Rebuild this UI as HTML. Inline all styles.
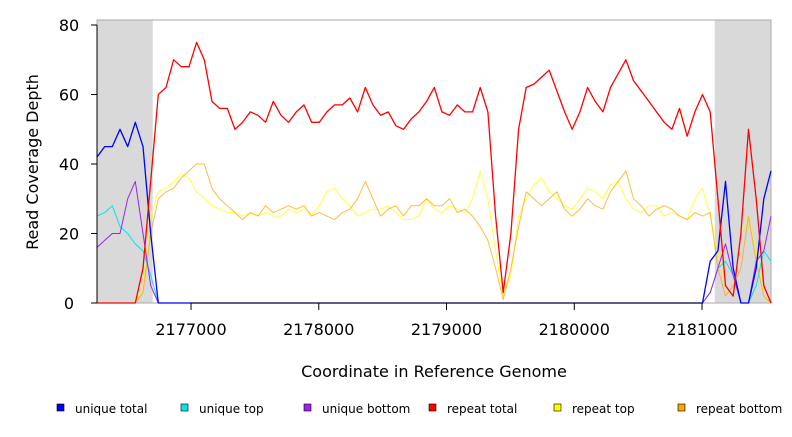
<!DOCTYPE html>
<html><head><meta charset="utf-8"><style>
body{margin:0;background:#fff;}
svg text{font-family:"DejaVu Sans","Liberation Sans",sans-serif;}
</style></head><body>
<svg id="chart" width="792" height="432" xmlns="http://www.w3.org/2000/svg">
<g id="bg"></g><g id="marks"></g><g id="axes"></g>
</svg>
<script>
const coordStart = 2176264;
const coordStep = 60;
const xTicks = [2177000, 2178000, 2179000, 2180000, 2181000];
const yTicks = [0, 20, 40, 60, 80];
const shadedRegions = [[2176264, 2176700], [2181100, 2181540]];
const repeatTotal = [0,0,0,0,0,0,10,35,60,62,70,68,68,75,70,58,56,56,50,52,55,54,52,58,54,52,55,57,52,52,55,57,57,59,55,62,57,54,55,51,50,53,55,58,62,55,54,57,55,55,62,55,25,3,20,50,62,63,65,67,61,55,50,55,62,58,55,62,66,70,64,61,58,55,52,50,56,48,55,60,55,30,5,2,20,50,30,5,0];
const repeatTop = [0,0,0,0,0,0,5,25,32,33,35,37,36,32,30,28,27,26,26,25,26,25,26,25,25,27,26,27,25,28,32,33,30,28,25,26,27,27,28,26,24,24,25,30,27,26,28,27,26,30,38,30,15,2,8,25,30,34,36,32,30,28,27,30,33,32,30,34,35,30,27,26,28,28,25,26,25,24,30,33,25,15,5,2,20,25,15,2,0];
const repeatBottom = [0,0,0,0,0,0,3,20,30,32,33,36,38,40,40,33,30,28,26,24,26,25,28,26,27,28,27,28,25,26,25,24,26,27,30,35,30,25,27,28,25,28,28,30,28,28,30,26,27,25,22,18,10,1,10,22,32,30,28,30,32,27,25,27,30,28,27,32,35,38,30,28,25,27,28,27,25,24,26,25,26,10,2,5,10,25,12,2,0];
const uniqueTotal = [42,45,45,50,45,52,45,20,0,0,0,0,0,0,0,0,0,0,0,0,0,0,0,0,0,0,0,0,0,0,0,0,0,0,0,0,0,0,0,0,0,0,0,0,0,0,0,0,0,0,0,0,0,0,0,0,0,0,0,0,0,0,0,0,0,0,0,0,0,0,0,0,0,0,0,0,0,0,0,0,12,15,35,10,0,0,10,30,38];
const uniqueTop = [25,26,28,22,20,17,15,8,0,0,0,0,0,0,0,0,0,0,0,0,0,0,0,0,0,0,0,0,0,0,0,0,0,0,0,0,0,0,0,0,0,0,0,0,0,0,0,0,0,0,0,0,0,0,0,0,0,0,0,0,0,0,0,0,0,0,0,0,0,0,0,0,0,0,0,0,0,0,0,0,3,10,12,8,0,0,5,15,12];
const uniqueBottom = [16,18,20,20,30,35,20,5,0,0,0,0,0,0,0,0,0,0,0,0,0,0,0,0,0,0,0,0,0,0,0,0,0,0,0,0,0,0,0,0,0,0,0,0,0,0,0,0,0,0,0,0,0,0,0,0,0,0,0,0,0,0,0,0,0,0,0,0,0,0,0,0,0,0,0,0,0,0,0,0,3,10,17,8,0,0,12,15,25];
const seriesNames = ["unique total","unique top","unique bottom","repeat total","repeat top","repeat bottom"];
const seriesColors = ["#0000ff","#00e5ee","#a020f0","#ff0000","#ffff00","#ffa500"];

const NS="http://www.w3.org/2000/svg";
const X0=97,X1=771,Y0=303,Y1=20;
const xMin=2176264,xMax=2181540;
function sx(c){return X0+(c-xMin)/(xMax-xMin)*(X1-X0);}
function sy(v){return Y0-v*3.475;}
function mk(tag,attrs,parent){const e=document.createElementNS(NS,tag);for(const k in attrs)e.setAttribute(k,attrs[k]);parent.appendChild(e);return e;}
const bg=document.getElementById('bg'),marks=document.getElementById('marks'),axes=document.getElementById('axes');

shadedRegions.forEach(r=>{
  const e=mk('rect',{x:sx(r[0]),y:Y1,width:sx(r[1])-sx(r[0]),height:Y0-Y1,fill:'#d9d9d9'},bg);
  
  
});
const border=mk('rect',{x:X0,y:Y1,width:X1-X0,height:Y0-Y1,fill:'none',stroke:'#aaa','stroke-width':1},bg);



const data=[uniqueTotal,uniqueTop,uniqueBottom,repeatTotal,repeatTop,repeatBottom];
const widths=[1.3,1,1,1.3,1,1];
const order=[4,5,1,2,0,3];
order.forEach(i=>{
  const arr=data[i];
  let d='';
  arr.forEach((v,j)=>{const c=Math.min(coordStart+j*coordStep,xMax);d+=(j?'L':'M')+sx(c).toFixed(1)+','+sy(v).toFixed(1);});
  const p=mk('path',{d:d,fill:'none',stroke:seriesColors[i],'stroke-width':widths[i],'stroke-linejoin':'round',opacity:(i==4||i==5)?0.75:1},marks);
  
  
});

const yl=mk('line',{x1:X0,y1:sy(0),x2:X0,y2:sy(80),stroke:'#000'},axes);


yTicks.forEach(v=>{
  mk('line',{x1:X0-6,y1:sy(v),x2:X0,y2:sy(v),stroke:'#000'},axes);
  const t=mk('text',{x:69,y:sy(v)+6,'font-size':16,'text-anchor':'middle'},axes);
  t.textContent=v;
  
  
});
const xl=mk('line',{x1:sx(xTicks[0]),y1:Y0,x2:sx(xTicks[xTicks.length-1]),y2:Y0,stroke:'#000'},axes);


xTicks.forEach(v=>{
  mk('line',{x1:sx(v),y1:Y0,x2:sx(v),y2:Y0+7,stroke:'#000'},axes);
  const t=mk('text',{x:sx(v),y:335,'font-size':16,'text-anchor':'middle'},axes);
  t.textContent=v;
  
  
});
const yt=mk('text',{x:0,y:0,'font-size':16,'text-anchor':'middle',transform:'translate(38,162) rotate(-90)'},axes);
yt.textContent='Read Coverage Depth';


const xt=mk('text',{x:434,y:377,'font-size':16,'text-anchor':'middle'},axes);
xt.textContent='Coordinate in Reference Genome';



const legX=[57,181,304,429,554,678];
seriesNames.forEach((n,i)=>{
  const g=mk('g',{},axes);
  
  
  mk('rect',{x:legX[i],y:404,width:7,height:7,fill:seriesColors[i],stroke:'#000','stroke-width':0.6},g);
  const t=mk('text',{x:legX[i]+18,y:413,'font-size':12},g);
  t.textContent=n;
});
</script>
</body></html>
